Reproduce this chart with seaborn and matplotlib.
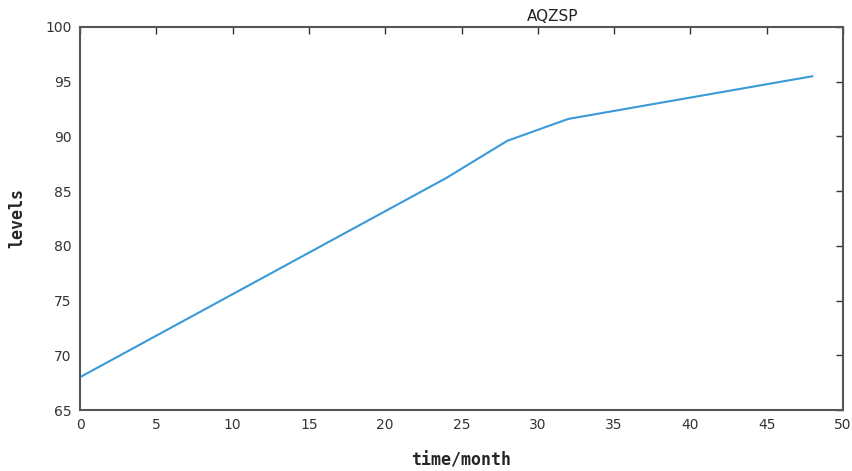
import matplotlib
matplotlib.use('Agg')
import matplotlib.pyplot as plt
import seaborn as sns
import pandas as pd

# Data (kink points of the line)
months = [0, 24, 28, 32, 48]
levels = [68.0, 86.2, 89.6, 91.6, 95.5]

df = pd.DataFrame({'time/month': months, 'levels': levels})

sns.set_style('white')
plt.rcParams['font.family'] = ['DejaVu Sans']

fig = plt.figure(figsize=(8.53, 4.71), dpi=100)
ax = fig.add_axes([0.0938, 0.1295, 0.8945, 0.8132])

sns.lineplot(data=df, x='time/month', y='levels', ax=ax, color='#3a9ad9', linewidth=1.5)

ax.set_xlim(0, 50)
ax.set_ylim(65, 100)
ax.set_xticks(range(0, 51, 5))
ax.set_yticks(range(65, 101, 5))
ax.tick_params(direction='in', length=5, width=1, top=True, right=True,
               labelsize=10, colors='#333333', pad=6)
for s in ax.spines.values():
    s.set_color('#555555')
    s.set_linewidth(1.5)
    s.set_visible(True)

ax.set_xlabel('time/month', fontsize=12, fontweight='bold', family='DejaVu Sans Mono', labelpad=14)
ax.set_ylabel('levels', fontsize=12, fontweight='bold', family='DejaVu Sans Mono', labelpad=14)
ax.set_title('AQZSP', fontsize=11, x=0.62, pad=4, color='#222222')

fig.savefig('out.png', dpi=100)
